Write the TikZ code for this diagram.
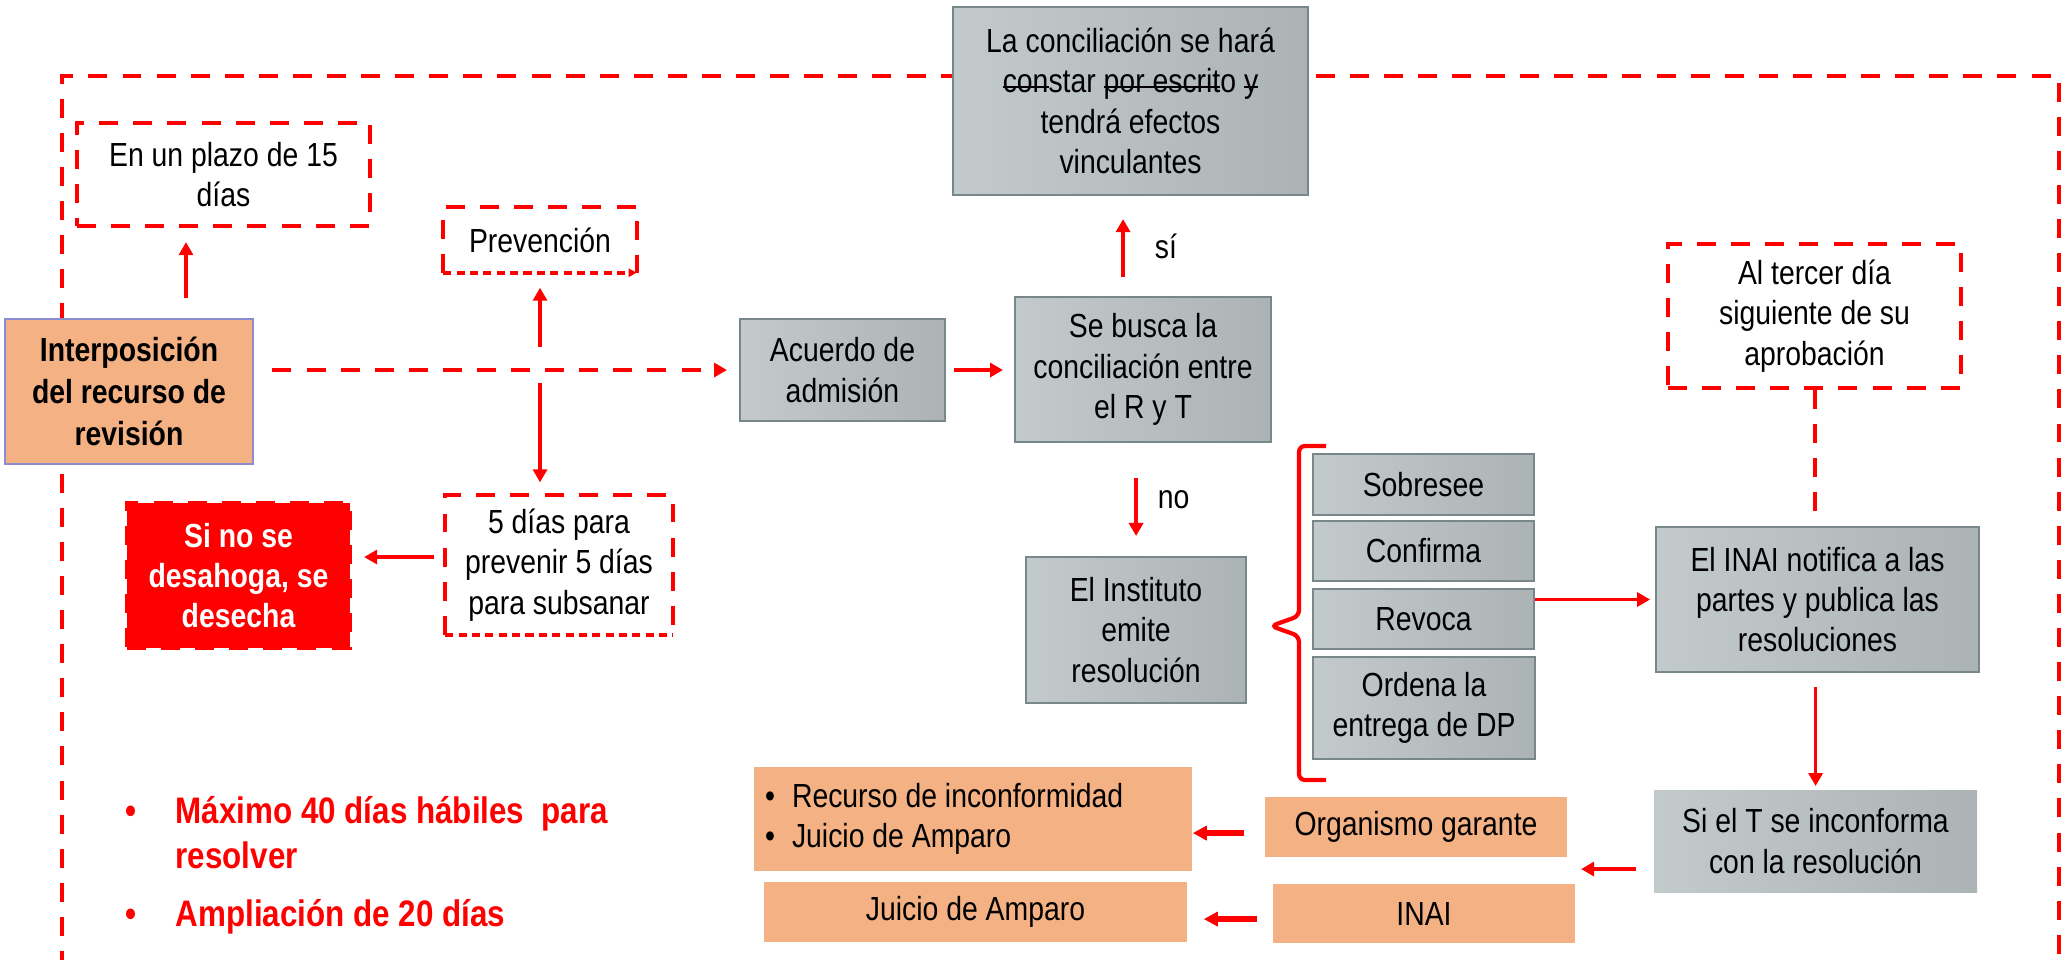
\documentclass[tikz,border=0pt]{standalone}
\usepackage{fontspec}
\setmainfont{Liberation Sans}[FakeStretch=0.85]
\usetikzlibrary{arrows.meta}
\definecolor{peach}{HTML}{F4B183}
\definecolor{grayhi}{HTML}{C3CACB}
\definecolor{graylo}{HTML}{ABB3B5}
\definecolor{grayedge}{HTML}{78878A}
\definecolor{lilac}{HTML}{8B8BD0}
\definecolor{brightred}{HTML}{FF0000}
\newcommand\strk[1]{\setbox0\hbox{#1}\rlap{\rule[0.28ex]{\wd0}{0.5pt}}\box0}

\begin{document}
\begin{tikzpicture}[scale=0.1]
\tikzstyle{every node}+=[font=\fontsize{9.5}{11.5}\selectfont, align=center, inner sep=0pt]
\tikzstyle{graybox}=[draw=grayedge, line width=0.6pt, left color=grayhi, right color=graylo]
\tikzstyle{peachbox}=[fill=peach]
\tikzstyle{redframe}=[draw=brightred, line width=1.2pt, dash pattern=on 5.4pt off 4.3pt]
\tikzstyle{reddash}=[brightred, line width=1.2pt, dash pattern=on 5.4pt off 4.3pt]
\tikzstyle{reddot}=[brightred, line width=1.2pt, dash pattern=on 2.3pt off 1.5pt]
\tikzstyle{arr}=[brightred, line width=1pt, -{Triangle[length=0.13cm,width=0.14cm]}]
\tikzstyle{fatarr}=[brightred, line width=1.8pt, -{Triangle[length=0.14cm,width=0.14cm]}]
\tikzstyle{yesno}=[text=black]
\useasboundingbox (0,0) rectangle (206.5,-95.9);
\draw [reddash] (6.2,-97) -- (6.2,-7.6) -- (205.9,-7.6) -- (205.9,-97);
\node (interp) at (12.9,-39.15) [peachbox, draw=lilac, line width=0.7pt, minimum width=2.485cm, minimum height=1.45cm, font=\fontsize{9.5}{12}\selectfont\bfseries] {Interposición\\del recurso de\\revisión};
\node (plazo) at (22.35,-17.45) [redframe, minimum width=2.93cm, minimum height=1.03cm] {En un plazo de 15\\días};
\node (prev) at (54,-24) [minimum width=1.92cm, minimum height=0.64cm] {Prevención};
\draw [reddash] (prev.south west) -- (prev.north west) -- (prev.north east) -- (prev.south east);
\draw [reddot, -{Triangle[length=0.08cm,width=0.08cm]}] (prev.south west) -- (prev.south east);
\node (cinco) at (55.9,-56.5) [minimum width=2.26cm, minimum height=1.38cm] {5 días para\\prevenir 5 días\\para subsanar};
\draw [reddash] (cinco.south west) -- (cinco.north west) -- (cinco.north east) -- (cinco.south east);
\draw [reddot] (cinco.south west) -- (cinco.south east);
\node (desecha) at (23.85,-57.55) [fill=brightred, redframe, text=white, minimum width=2.23cm, minimum height=1.45cm, font=\fontsize{9.5}{11.5}\selectfont\bfseries] {Si no se\\desahoga, se\\desecha};
\node (acuerdo) at (84.25,-37) [graybox, minimum width=2.05cm, minimum height=1.02cm] {Acuerdo de\\admisión};
\node (busca) at (114.3,-36.95) [graybox, minimum width=2.56cm, minimum height=1.45cm] {Se busca la\\conciliación entre\\el R y T};
\node (concil) at (113.05,-10.1) [graybox, minimum width=3.55cm, minimum height=1.88cm] {La conciliación se hará\\\strk{con}star \strk{por escrit}o \strk{y}\\tendrá efectos\\vinculantes};
\node (inst) at (113.6,-63) [graybox, minimum width=2.2cm, minimum height=1.46cm] {El Instituto\\emite\\resolución};
\node (sobre) at (142.35,-48.45) [graybox, minimum width=2.21cm, minimum height=0.61cm] {Sobresee};
\node (confirma) at (142.35,-55.1) [graybox, minimum width=2.21cm, minimum height=0.6cm] {Confirma};
\node (revoca) at (142.35,-61.9) [graybox, minimum width=2.21cm, minimum height=0.6cm] {Revoca};
\node (ordena) at (142.4,-70.8) [graybox, minimum width=2.22cm, minimum height=1.02cm] {Ordena la\\entrega de DP};
\node (tercer) at (181.45,-31.6) [redframe, minimum width=2.93cm, minimum height=1.44cm] {Al tercer día\\siguiente de su\\aprobación};
\node (notif) at (181.75,-59.95) [graybox, minimum width=3.23cm, minimum height=1.45cm] {El INAI notifica a las\\partes y publica las\\resoluciones};
\node (sielt) at (181.55,-84.1) [graybox, draw=none, minimum width=3.23cm, minimum height=1.02cm] {Si el T se inconforma\\con la resolución};
\node (organismo) at (141.6,-82.7) [peachbox, minimum width=3.02cm, minimum height=0.6cm] {Organismo garante};
\node (inaib) at (142.4,-91.35) [peachbox, minimum width=3.02cm, minimum height=0.59cm] {INAI};
\node (recurso) at (97.3,-81.9) [peachbox, text width=4.16cm, inner xsep=0.11cm, minimum height=1.04cm, align=flush left] {\makebox[0.27cm][l]{\textbullet}Recurso de inconformidad\\\makebox[0.27cm][l]{\textbullet}Juicio de Amparo};
\node (amparo) at (97.55,-91.2) [peachbox, minimum width=4.23cm, minimum height=0.6cm] {Juicio de Amparo};
\node (plazos) at (12.5,-79.6) [anchor=north west, text=brightred, align=flush left, font=\fontsize{10.5}{12.8}\selectfont\bfseries] {\makebox[0.5cm][l]{\textbullet}Máximo 40 días hábiles\ \ para\\\hspace*{0.5cm}resolver\\[3.7pt]\makebox[0.5cm][l]{\textbullet}Ampliación de 20 días};
\coordinate (split) at (158.1,-86.9);
\draw [arr, shorten <=0.2cm, shorten >=0.14cm] ([xshift=5.7cm]interp.north) -- ([xshift=5.7cm]interp.north |- plazo.south);
\draw [reddash, -{Triangle[length=0.13cm,width=0.14cm]}, shorten <=0.18cm, shorten >=0.12cm] (interp.east |- acuerdo.west) -- (acuerdo.west);
\draw [arr, shorten <=0.23cm, shorten >=0.15cm] (prev.south |- acuerdo.west) -- (prev.south);
\draw [arr, shorten <=0.13cm, shorten >=0.13cm] (prev.south |- acuerdo.west) -- (prev.south |- cinco.north);
\draw [arr, shorten <=0.11cm, shorten >=0.12cm] ([yshift=0.8cm]cinco.west) -- ([yshift=0.8cm]cinco.west -| desecha.east);
\draw [arr, shorten <=0.08cm, shorten >=0.11cm] (acuerdo.east) -- (acuerdo.east -| busca.west);
\draw [arr, shorten <=0.19cm, shorten >=0.23cm] ([xshift=-2cm]busca.north) -- ([xshift=-2cm]busca.north |- concil.south) node [yesno, midway, right=0.3cm] {sí};
\draw [arr, shorten <=0.35cm, shorten >=0.2cm] (inst.north |- busca.south) -- (inst.north) node [yesno, midway, right=0.2cm] {no};
\draw [brightred, line width=1.2pt, rounded corners=0.06cm] (132.6,-44.6) -- (129.9,-44.6) -- (129.9,-61.6) -- (127.1,-62.6) -- (129.9,-63.6) -- (129.9,-78) -- (132.6,-78);
\draw [arr, shorten >=0.05cm] (revoca.east |- notif.west) -- (notif.west);
\draw [reddash] (tercer.south) -- (tercer.south |- notif.north);
\draw [arr, shorten <=0.14cm, shorten >=0.03cm] (sielt.north |- notif.south) -- (sielt.north);
\draw [arr, shorten <=0.17cm] (sielt.west |- split) -- (split);
\draw [fatarr, shorten <=0.2cm] ([yshift=-0.6cm]organismo.west) -- ([yshift=-0.6cm]organismo.west -| recurso.east);
\draw [fatarr, shorten <=0.15cm, shorten >=0.16cm] ([yshift=-0.55cm]inaib.west) -- ([yshift=-0.55cm]inaib.west -| amparo.east);
\end{tikzpicture}
\end{document}
